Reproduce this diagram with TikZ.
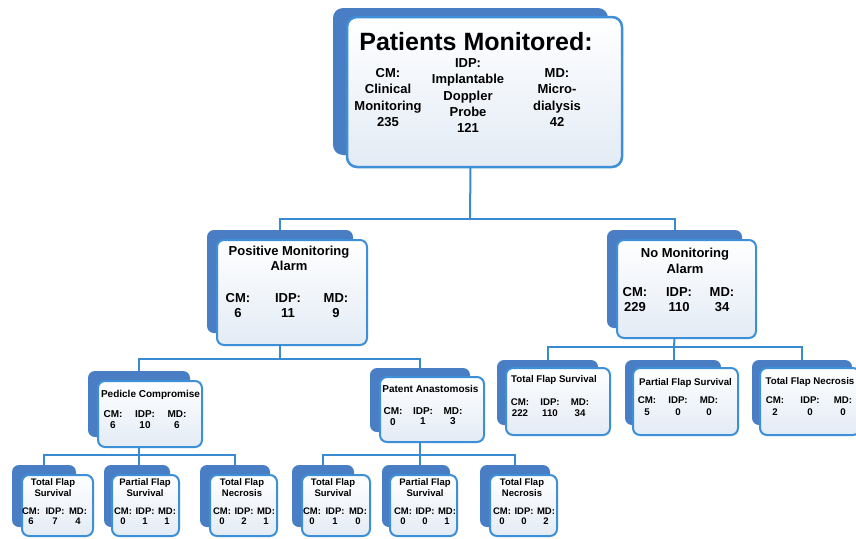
\documentclass[tikz,border=0pt]{standalone}
\usepackage{fontspec}
\setmainfont{Liberation Sans}
\usetikzlibrary{fit}
\definecolor{backblue}{HTML}{4A7EC4}
\definecolor{edgeblue}{HTML}{3D8FD8}
\definecolor{lineblue}{HTML}{3A8AD2}
\definecolor{frontlow}{HTML}{E3EBF5}
\tikzset{
  backbox/.style={fill=backblue, draw=none, rounded corners=7pt, inner sep=0pt, outer sep=0pt},
  frontbox/.style={draw=edgeblue, line width=2pt, rounded corners=7pt, top color=white, bottom color=frontlow, inner sep=0pt, outer sep=0pt},
  conn/.style={draw=lineblue, line width=2pt},
  txt/.style={inner sep=0pt, align=center, anchor=north},
}
\newcommand{\fsz}[2]{\fontsize{#1}{#2}\selectfont\bfseries}
\begin{document}
\begin{tikzpicture}[x=1pt,y=-1pt]
\useasboundingbox (0,0) rectangle (856,538);
\clip (0,0) rectangle (856,538);
\fill[white] (0,0) rectangle (856,538);

% back shapes
\node[backbox, rounded corners=10pt, fit={(333,8) (608,155)}] (top-b) {};
\node[backbox, fit={(207,230) (353,333)}] (pos-b) {};
\node[backbox, fit={(607,230) (742,328)}] (no-b) {};
\node[backbox, fit={(88,371) (190,437)}] (ped-b) {};
\node[backbox, fit={(370,368) (470,432)}] (pat-b) {};
\node[backbox, fit={(497,360) (598,425)}] (r1-b) {};
\node[backbox, fit={(625,360) (721,425)}] (r2-b) {};
\node[backbox, fit={(752,360) (852,425)}] (r3-b) {};
\node[backbox, fit={(12,465) (76,527)}] (b1-b) {};
\node[backbox, fit={(104,465) (170,527)}] (b2-b) {};
\node[backbox, fit={(200,465) (270,527)}] (b3-b) {};
\node[backbox, fit={(292,465) (354,527)}] (b4-b) {};
\node[backbox, fit={(382,465) (450,527)}] (b5-b) {};
\node[backbox, fit={(480,465) (550,527)}] (b6-b) {};

% front boxes
\node[frontbox, line width=2.5pt, rounded corners=10pt, fit={(347,17) (622,167)}] (top) {};
\node[frontbox, fit={(217,240) (367,345)}] (pos) {};
\node[frontbox, fit={(617,240) (756,338)}] (no) {};
\node[frontbox, fit={(98,381) (202,447)}] (ped) {};
\node[frontbox, fit={(380,377) (484,442)}] (pat) {};
\node[frontbox, fit={(506,368) (610,435)}] (r1) {};
\node[frontbox, fit={(633,368) (738,435)}] (r2) {};
\node[frontbox, fit={(760,368) (860,435)}] (r3) {};
\node[frontbox, fit={(22,475) (93,536)}] (b1) {};
\node[frontbox, fit={(112,475) (179,536)}] (b2) {};
\node[frontbox, fit={(210,475) (277,536)}] (b3) {};
\node[frontbox, fit={(302,475) (370,536)}] (b4) {};
\node[frontbox, fit={(390,475) (457,536)}] (b5) {};
\node[frontbox, fit={(490,475) (557,536)}] (b6) {};

% connectors
\coordinate (j0) at (470,219);
\draw[conn] (top.south -| top-b.north) -- (j0);
\draw[conn] (pos-b.north) |- (j0) -| (no-b.north);
\coordinate (j1) at (280,359);
\draw[conn] (pos.south -| pos-b.north) -- (j1);
\draw[conn] (ped-b.north) |- (j1) -| (pat-b.north);
\coordinate (j2) at (674,347);
\draw[conn] (no.south -| no-b.north) -- (j2);
\draw[conn] (r1-b.north) |- (j2) -| (r3-b.north);
\draw[conn] (j2) -- (j2 |- r2-b.north);
\coordinate (j3) at (139,455);
\draw[conn] (ped.south -| ped-b.north) -- (j3);
\draw[conn] (b1-b.north) |- (j3) -| (b3-b.north);
\draw[conn] (j3) -- (j3 |- b2-b.north);
\coordinate (j4) at (420,455);
\draw[conn] (pat.south -| pat-b.north) -- (j4);
\draw[conn] (b4-b.north) |- (j4) -| (b6-b.north);
\draw[conn] (j4) -- (j4 |- b5-b.north);

% top texts
\node[txt, anchor=base, font=\fsz{25}{30}] (t-title) at (476,50) {Patients Monitored:};
\node[txt, font=\fsz{13}{16.3}] (t-cm) at (388,68.3) {CM:\\Clinical\\Monitoring\\235};
\node[txt, font=\fsz{13}{16.3}] (t-idp) at (468,58.4) {IDP:\\Implantable\\Doppler\\Probe\\121};
\node[txt, font=\fsz{13}{16.3}] (t-md) at (557,68.3) {MD:\\Micro-\\dialysis\\42};

% positive
\node[txt, font=\fsz{13}{15}] (p-title) at (289,246.3) {Positive Monitoring\\Alarm};
\node[txt, font=\fsz{13}{15}] (p-cm) at (238,293.3) {CM:\\6};
\node[txt, font=\fsz{13}{15}] (p-idp) at (288,293.3) {IDP:\\11};
\node[txt, font=\fsz{13}{15}] (p-md) at (336,293.3) {MD:\\9};

% no alarm
\node[txt, font=\fsz{13}{16}] (n-title) at (685,248.3) {No Monitoring\\Alarm};
\node[txt, font=\fsz{13}{15}] (n-cm) at (635,287.4) {CM:\\229};
\node[txt, font=\fsz{13}{15}] (n-idp) at (679,287.4) {IDP:\\110};
\node[txt, font=\fsz{13}{15}] (n-md) at (722,287.4) {MD:\\34};

% pedicle
\node[txt, font=\fsz{10}{12}] (pc-title) at (150.5,390.4) {Pedicle Compromise};
\node[txt, font=\fsz{10}{11}] (pc-cm) at (113,410.4) {CM:\\6};
\node[txt, font=\fsz{10}{11}] (pc-idp) at (145,410.4) {IDP:\\10};
\node[txt, font=\fsz{10}{11}] (pc-md) at (177,410.4) {MD:\\6};

% patent
\node[txt, font=\fsz{10}{12}] (pa-title) at (430.5,385.4) {Patent Anastomosis};
\node[txt, font=\fsz{10}{10.5}] (pa-cm) at (393,407.4) {CM:\\0};
\node[txt, font=\fsz{10}{10.5}] (pa-idp) at (423,407.4) {IDP:\\1};
\node[txt, font=\fsz{10}{10.5}] (pa-md) at (453,407.4) {MD:\\3};

% right row
\node[txt, font=\fsz{9.7}{11}] (r1-title) at (554,375.5) {Total Flap Survival};
\node[txt, font=\fsz{9.7}{11}] (r1-cm) at (520,398.5) {CM:\\222};
\node[txt, font=\fsz{9.7}{11}] (r1-idp) at (550,398.5) {IDP:\\110};
\node[txt, font=\fsz{9.7}{11}] (r1-md) at (580,398.5) {MD:\\34};
\node[txt, font=\fsz{9.7}{11}] (r2-title) at (685.5,378.5) {Partial Flap Survival};
\node[txt, font=\fsz{9.7}{12}] (r2-cm) at (647,396.5) {CM:\\5};
\node[txt, font=\fsz{9.7}{12}] (r2-idp) at (678,396.5) {IDP:\\0};
\node[txt, font=\fsz{9.7}{12}] (r2-md) at (709,396.5) {MD:\\0};
\node[txt, font=\fsz{9.7}{11}] (r3-title) at (810,377.5) {Total Flap Necrosis};
\node[txt, font=\fsz{9.7}{12}] (r3-cm) at (775,396.5) {CM:\\2};
\node[txt, font=\fsz{9.7}{12}] (r3-idp) at (810,396.5) {IDP:\\0};
\node[txt, font=\fsz{9.7}{12}] (r3-md) at (843,396.5) {MD:\\0};

% bottom row
\node[txt, font=\fsz{9.5}{11}] (b1-title) at (53,478.6) {Total Flap\\Survival};
\node[txt, font=\fsz{9.5}{10}] (b1-cm) at (31,507.6) {CM:\\6};
\node[txt, font=\fsz{9.5}{10}] (b1-idp) at (55,507.6) {IDP:\\7};
\node[txt, font=\fsz{9.5}{10}] (b1-md) at (78,507.6) {MD:\\4};
\node[txt, font=\fsz{9.5}{11}] (b2-title) at (145,478.6) {Partial Flap\\Survival};
\node[txt, font=\fsz{9.5}{10}] (b2-cm) at (123,507.6) {CM:\\0};
\node[txt, font=\fsz{9.5}{10}] (b2-idp) at (145,507.6) {IDP:\\1};
\node[txt, font=\fsz{9.5}{10}] (b2-md) at (167,507.6) {MD:\\1};
\node[txt, font=\fsz{9.5}{11}] (b3-title) at (242,478.6) {Total Flap\\Necrosis};
\node[txt, font=\fsz{9.5}{10}] (b3-cm) at (222,507.6) {CM:\\0};
\node[txt, font=\fsz{9.5}{10}] (b3-idp) at (244,507.6) {IDP:\\2};
\node[txt, font=\fsz{9.5}{10}] (b3-md) at (266,507.6) {MD:\\1};
\node[txt, font=\fsz{9.5}{11}] (b4-title) at (333,478.6) {Total Flap\\Survival};
\node[txt, font=\fsz{9.5}{10}] (b4-cm) at (312,507.6) {CM:\\0};
\node[txt, font=\fsz{9.5}{10}] (b4-idp) at (335,507.6) {IDP:\\1};
\node[txt, font=\fsz{9.5}{10}] (b4-md) at (358,507.6) {MD:\\0};
\node[txt, font=\fsz{9.5}{11}] (b5-title) at (425,478.6) {Partial Flap\\Survival};
\node[txt, font=\fsz{9.5}{10}] (b5-cm) at (403,507.6) {CM:\\0};
\node[txt, font=\fsz{9.5}{10}] (b5-idp) at (425,507.6) {IDP:\\0};
\node[txt, font=\fsz{9.5}{10}] (b5-md) at (447,507.6) {MD:\\1};
\node[txt, font=\fsz{9.5}{11}] (b6-title) at (522,478.6) {Total Flap\\Necrosis};
\node[txt, font=\fsz{9.5}{10}] (b6-cm) at (502,507.6) {CM:\\0};
\node[txt, font=\fsz{9.5}{10}] (b6-idp) at (524,507.6) {IDP:\\0};
\node[txt, font=\fsz{9.5}{10}] (b6-md) at (546,507.6) {MD:\\2};
\end{tikzpicture}
\end{document}
